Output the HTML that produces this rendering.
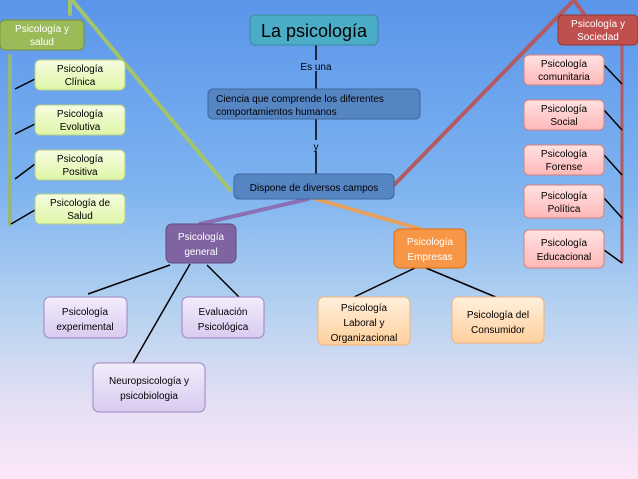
<!DOCTYPE html>
<html><head><meta charset="utf-8"><style>
html,body{margin:0;padding:0;}
body{width:638px;height:479px;overflow:hidden;background:linear-gradient(180deg,#5a95ea 0%,#7fb4f0 40%,#b6d2f0 65%,#e6e0f4 85%,#fce6f8 100%);}
svg{display:block;}
text{font-family:"Liberation Sans",sans-serif;}
</style></head><body>
<svg width="638" height="479" viewBox="0 0 638 479" xmlns="http://www.w3.org/2000/svg">
<defs>
<linearGradient id="gg" x1="0" y1="0" x2="0" y2="1"><stop offset="0" stop-color="#f6fde0"/><stop offset="1" stop-color="#dff5a8"/></linearGradient>
<linearGradient id="rg" x1="0" y1="0" x2="0" y2="1"><stop offset="0" stop-color="#ffe2e2"/><stop offset="1" stop-color="#ffb8b8"/></linearGradient>
<linearGradient id="pg" x1="0" y1="0" x2="0" y2="1"><stop offset="0" stop-color="#f2ecfb"/><stop offset="1" stop-color="#d9cbf0"/></linearGradient>
<linearGradient id="og" x1="0" y1="0" x2="0" y2="1"><stop offset="0" stop-color="#fff0dd"/><stop offset="1" stop-color="#ffcf9c"/></linearGradient>
</defs>
<!-- big connectors -->
<g stroke-linecap="round" fill="none">
<path d="M70 0 L70 14 M72 0 L230 190" stroke="#a4c46c" stroke-width="4"/>
<path d="M394 185 L574 0 L584 14" stroke="#b35a62" stroke-width="4"/>
<path d="M10 56 L10 224" stroke="#97b877" stroke-width="4"/>
<path d="M622 45 L622 262" stroke="#b35a62" stroke-width="3"/>
<path d="M308 199 L200 224" stroke="#8a70b4" stroke-width="4"/>
<path d="M316 199 L420 229" stroke="#e6a05e" stroke-width="4"/>
</g>
<g stroke="#000" stroke-width="1.5">
<line x1="316" y1="45" x2="316" y2="60"/><line x1="316" y1="71" x2="316" y2="89"/>
<line x1="316" y1="119" x2="316" y2="140"/><line x1="316" y1="151" x2="316" y2="174"/>
<line x1="15" y1="89" x2="35" y2="79"/><line x1="15" y1="134" x2="35" y2="124"/>
<line x1="15" y1="179" x2="35" y2="164"/><line x1="11" y1="224" x2="35" y2="210"/>
<line x1="604" y1="65" x2="622" y2="84"/><line x1="604" y1="110" x2="622" y2="130"/>
<line x1="604" y1="155" x2="622" y2="175"/><line x1="604" y1="198" x2="622" y2="218"/>
<line x1="604" y1="250" x2="622" y2="263"/>
<line x1="170" y1="265" x2="88" y2="294"/><line x1="190" y1="264" x2="133" y2="363"/>
<line x1="207" y1="265" x2="240" y2="298"/>
<line x1="415" y1="268" x2="352" y2="298"/><line x1="426" y1="268" x2="498" y2="298"/>
</g>
<!-- main boxes -->
<rect x="250" y="15" width="128" height="30" rx="5" fill="#4bacc6" stroke="#3a8aa0"/>
<text x="314" y="37" font-size="18" text-anchor="middle" fill="#000">La psicología</text>
<text x="316" y="70" font-size="10" text-anchor="middle">Es una</text>
<rect x="208" y="89" width="212" height="30" rx="5" fill="#5685c4" stroke="#3d66a0"/>
<text x="216" y="102" font-size="10" fill="#000">Ciencia que comprende los diferentes</text>
<text x="216" y="115" font-size="10" fill="#000">comportamientos  humanos</text>
<text x="316" y="150" font-size="10" text-anchor="middle">y</text>
<rect x="234" y="174" width="160" height="25" rx="5" fill="#5685c4" stroke="#3d66a0"/>
<text x="314" y="191" font-size="10" text-anchor="middle">Dispone de diversos campos</text>
<!-- green -->
<rect x="0" y="20" width="84" height="30" rx="5" fill="#9bbb59" stroke="#76923c"/>
<g font-size="10" text-anchor="middle" fill="#fff"><text x="42" y="32">Psicología y</text><text x="42" y="45">salud</text></g>
<g fill="url(#gg)" stroke="#b5cf88">
<rect x="35" y="60" width="90" height="30" rx="5"/><rect x="35" y="105" width="90" height="30" rx="5"/>
<rect x="35" y="150" width="90" height="30" rx="5"/><rect x="35" y="194" width="90" height="30" rx="5"/>
</g>
<g font-size="10" text-anchor="middle">
<text x="80" y="72">Psicología</text><text x="80" y="85">Clínica</text>
<text x="80" y="117">Psicología</text><text x="80" y="130">Evolutiva</text>
<text x="80" y="162">Psicología</text><text x="80" y="175">Positiva</text>
<text x="80" y="206">Psicología  de</text><text x="80" y="219">Salud</text>
</g>
<!-- red -->
<rect x="558" y="15" width="80" height="30" rx="5" fill="#c0504d" stroke="#943634"/>
<g font-size="10" text-anchor="middle" fill="#fff"><text x="598" y="27">Psicología y</text><text x="598" y="40">Sociedad</text></g>
<g fill="url(#rg)" stroke="#d98080">
<rect x="524" y="55" width="80" height="30" rx="5"/><rect x="524" y="100" width="80" height="30" rx="5"/>
<rect x="524" y="145" width="80" height="30" rx="5"/><rect x="524" y="185" width="80" height="33" rx="5"/>
<rect x="524" y="230" width="80" height="38" rx="5"/>
</g>
<g font-size="10" text-anchor="middle">
<text x="564" y="67">Psicología</text><text x="564" y="80">comunitaria</text>
<text x="564" y="112">Psicología</text><text x="564" y="125">Social</text>
<text x="564" y="157">Psicología</text><text x="564" y="170">Forense</text>
<text x="564" y="199">Psicología</text><text x="564" y="212">Política</text>
<text x="564" y="246">Psicología</text><text x="564" y="260">Educacional</text>
</g>
<!-- purple -->
<rect x="166" y="224" width="70" height="39" rx="6" fill="#8064a2" stroke="#5f497a"/>
<g font-size="10" text-anchor="middle" fill="#fff"><text x="201" y="240">Psicología</text><text x="201" y="255">general</text></g>
<g fill="url(#pg)" stroke="#9b86c0">
<rect x="44" y="297" width="83" height="41" rx="6"/><rect x="182" y="297" width="82" height="41" rx="6"/>
<rect x="93" y="363" width="112" height="49" rx="6"/>
</g>
<g font-size="10" text-anchor="middle">
<text x="85" y="315">Psicología</text><text x="85" y="330">experimental</text>
<text x="223" y="315">Evaluación</text><text x="223" y="330">Psicológica</text>
<text x="149" y="384">Neuropsicología y</text><text x="149" y="399">psicobiologia</text>
</g>
<!-- orange -->
<rect x="394" y="229" width="72" height="39" rx="6" fill="#f79646" stroke="#e36c09"/>
<g font-size="10" text-anchor="middle" fill="#fff"><text x="430" y="245">Psicología</text><text x="430" y="260">Empresas</text></g>
<g fill="url(#og)" stroke="#f0b27a">
<rect x="318" y="297" width="92" height="48" rx="6"/><rect x="452" y="297" width="92" height="46" rx="6"/>
</g>
<g font-size="10" text-anchor="middle">
<text x="364" y="311">Psicología</text><text x="364" y="326">Laboral y</text><text x="364" y="341">Organizacional</text>
<text x="498" y="318">Psicología del</text><text x="498" y="333">Consumidor</text>
</g>
</svg>
</body></html>
